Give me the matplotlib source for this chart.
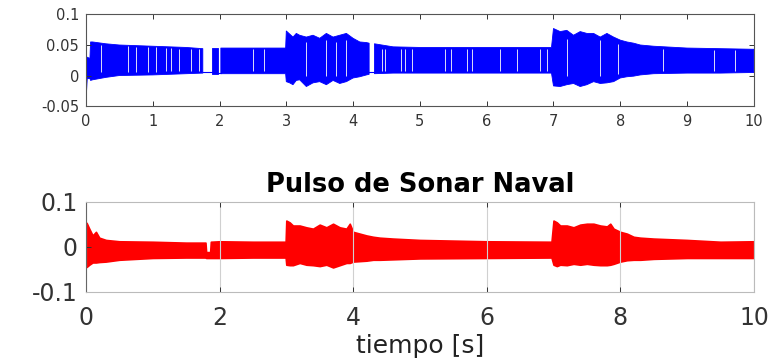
import numpy as np
import matplotlib
matplotlib.use('Agg')
import matplotlib.pyplot as plt

nan = np.nan

# ---------------- top panel: envelope of the blue signal ----------------
top_t = [0.00, 0.02, 0.06, 0.07, 0.10, 0.30, 0.50, 1.00, 1.50, 1.75,
         1.80, 1.885, 1.97, 1.99, 2.02, 2.50, 2.99, 3.00, 3.05, 3.10,
         3.15, 3.20, 3.30, 3.40, 3.50, 3.60, 3.70, 3.80, 3.90, 4.00,
         4.10, 4.20, 4.24, 4.28, 4.32, 4.60, 5.00, 6.00, 6.97, 7.00,
         7.10, 7.20, 7.30, 7.40, 7.50, 7.60, 7.70, 7.80, 7.90, 8.00,
         8.10, 8.20, 8.30, 8.50, 9.00, 9.50, 10.0]
top_upper = [0.030, 0.030, 0.028, 0.055, 0.055, 0.052, 0.050, 0.048, 0.046, 0.044,
             nan,   0.045, 0.045, nan,   0.045, 0.045, 0.045, 0.073, 0.068, 0.063,
             0.069, 0.066, 0.063, 0.066, 0.061, 0.069, 0.063, 0.066, 0.069, 0.061,
             0.055, 0.054, 0.053, nan,   0.052, 0.047, 0.046, 0.046, 0.046, 0.077,
             0.072, 0.074, 0.066, 0.072, 0.069, 0.069, 0.063, 0.069, 0.063, 0.058,
             0.055, 0.053, 0.050, 0.048, 0.045, 0.044, 0.043]
top_lower = [-0.045, -0.005, -0.005, -0.008, -0.007, -0.003, 0.000, 0.001, 0.003, 0.004,
             nan,    0.003,  0.003,  nan,    0.003,  0.003,  0.003, -0.010, -0.012, -0.015,
             -0.008, -0.007, -0.018, -0.012, -0.010, -0.015, -0.008, -0.013, -0.010, -0.004,
             -0.002, 0.001,  0.002,  nan,    0.003,  0.004,  0.004,  0.004,  0.004, -0.017,
             -0.018, -0.015, -0.013, -0.018, -0.015, -0.010, -0.013, -0.012, -0.010, -0.004,
             -0.002, -0.001, 0.001,  0.003,  0.004,  0.004,  0.005]

# silent stretches (flat trace) inside the top signal
top_gap_start = [1.75, 1.97, 4.24]
top_gap_end = [1.885, 2.02, 4.32]
top_gap_level = [0.005, 0.004, 0.006]

# short dropouts (thin light lines) in the top signal
top_drop_t = [0.23, 0.63, 0.755, 0.93, 1.05, 1.20, 1.28, 1.40, 1.58, 1.70,
              2.50, 2.67, 3.30, 3.60, 3.75, 3.90, 4.44, 4.48, 4.71, 4.78,
              4.88, 5.38, 5.46, 5.71, 5.78, 6.20, 6.45, 6.80, 6.90, 7.20,
              7.69, 7.97, 8.64, 9.41, 9.71]
top_drop_lo = [0.006, 0.006, 0.006, 0.006, 0.006, 0.007, 0.007, 0.007, 0.007, 0.007,
               0.007, 0.007, 0.000, 0.000, 0.000, 0.000, 0.008, 0.008, 0.008, 0.008,
               0.008, 0.008, 0.008, 0.008, 0.008, 0.008, 0.008, 0.008, 0.008, 0.000,
               0.000, 0.002, 0.008, 0.008, 0.008]
top_drop_hi = [0.050, 0.048, 0.047, 0.046, 0.046, 0.045, 0.045, 0.044, 0.043, 0.043,
               0.043, 0.043, 0.055, 0.058, 0.055, 0.058, 0.044, 0.044, 0.044, 0.044,
               0.044, 0.044, 0.044, 0.044, 0.044, 0.044, 0.044, 0.044, 0.044, 0.060,
               0.058, 0.052, 0.043, 0.042, 0.042]

# ---------------- bottom panel: envelope of the red signal ----------------
bot_t = [0.00, 0.01, 0.05, 0.10, 0.15, 0.20, 0.30, 0.50, 1.00, 1.50,
         1.79, 1.80, 1.86, 1.87, 2.00, 2.50, 2.99, 3.00, 3.05, 3.10,
         3.20, 3.30, 3.40, 3.50, 3.60, 3.70, 3.80, 3.90, 3.95, 4.00,
         4.10, 4.20, 4.30, 4.40, 4.60, 5.00, 6.00, 6.97, 7.00, 7.05,
         7.10, 7.20, 7.30, 7.40, 7.50, 7.60, 7.70, 7.80, 7.85, 7.90,
         8.00, 8.10, 8.20, 8.30, 8.50, 9.00, 9.50, 10.0]
bot_upper = [-0.020, 0.053, 0.040, 0.025, 0.033, 0.020, 0.015, 0.012, 0.011, 0.009,
             0.009, -0.012, -0.012, 0.011, 0.012, 0.011, 0.011, 0.058, 0.054, 0.047,
             0.047, 0.043, 0.040, 0.049, 0.043, 0.051, 0.043, 0.040, 0.051, 0.033,
             0.029, 0.025, 0.022, 0.020, 0.018, 0.015, 0.012, 0.011, 0.058, 0.054,
             0.047, 0.047, 0.043, 0.049, 0.051, 0.051, 0.047, 0.045, 0.051, 0.040,
             0.033, 0.029, 0.022, 0.020, 0.018, 0.015, 0.011, 0.012]
bot_lower = [-0.043, -0.045, -0.040, -0.035, -0.035, -0.034, -0.033, -0.029, -0.025, -0.024,
             -0.024, -0.025, -0.025, -0.025, -0.025, -0.024, -0.024, -0.040, -0.041, -0.041,
             -0.036, -0.040, -0.041, -0.043, -0.040, -0.046, -0.041, -0.036, -0.036, -0.033,
             -0.032, -0.031, -0.029, -0.029, -0.028, -0.026, -0.025, -0.024, -0.040, -0.043,
             -0.040, -0.041, -0.038, -0.040, -0.038, -0.040, -0.041, -0.041, -0.040, -0.038,
             -0.033, -0.030, -0.029, -0.029, -0.027, -0.025, -0.025, -0.025]

top_xticks = list(range(0, 11))
top_yticks = [-0.05, 0, 0.05, 0.1]
top_yticklabels = ['-0.05', '0', '0.05', '0.1']
bot_xticks = [0, 2, 4, 6, 8, 10]
bot_yticks = [-0.1, 0, 0.1]
bot_yticklabels = ['-0.1', '0', '0.1']
title_text = 'Pulso de Sonar Naval'
xlabel_text = 'tiempo [s]'

plt.rcParams['font.family'] = ['DejaVu Sans']

fig = plt.figure(figsize=(7.74, 3.62), dpi=100)
ax1 = fig.add_axes([0.111, 0.707, 0.863, 0.253])
ax2 = fig.add_axes([0.111, 0.194, 0.863, 0.249])

# ---- top ----
ax1.fill_between(top_t, top_lower, top_upper, color='#0000ff', linewidth=0.6,
                 edgecolor='#0000ff')
for s, e, lv in zip(top_gap_start, top_gap_end, top_gap_level):
    ax1.plot([s, e], [lv, lv], color='#0000ff', linewidth=0.8)
ax1.vlines(top_drop_t, top_drop_lo, top_drop_hi, colors='#dcdcf8', linewidth=0.7)
ax1.set_xlim(0, 10)
ax1.set_ylim(-0.05, 0.1)
ax1.set_xticks(top_xticks)
ax1.set_xticklabels([str(v) for v in top_xticks])
ax1.set_yticks(top_yticks)
ax1.set_yticklabels(top_yticklabels)
ax1.tick_params(direction='in', length=3.5, width=0.7, colors='#333333',
                labelsize=10.5, top=True, right=True)
ax1.tick_params(axis='x', pad=6)
ax1.tick_params(axis='y', pad=5)
for sp in ax1.spines.values():
    sp.set_color('#555555')
    sp.set_linewidth(0.8)

# ---- bottom ----
ax2.fill_between(bot_t, bot_lower, bot_upper, color='#ff0000', linewidth=1.2,
                 edgecolor='#ff0000')
ax2.set_xlim(0, 10)
ax2.set_ylim(-0.1, 0.1)
ax2.set_xticks(bot_xticks)
ax2.set_xticklabels([str(v) for v in bot_xticks])
ax2.set_yticks(bot_yticks)
ax2.set_yticklabels(bot_yticklabels)
ax2.grid(axis='x', color='#d0d0d0', linewidth=0.8)
ax2.tick_params(direction='in', length=3.5, width=0.7, colors='#333333',
                labelsize=17, top=True, right=False)
ax2.tick_params(axis='x', pad=10)
ax2.tick_params(axis='y', pad=6)
for name, sp in ax2.spines.items():
    sp.set_linewidth(0.8)
    sp.set_color('#666666' if name == 'left' else '#bbbbbb')
ax2.set_title(title_text, fontsize=18.5, fontweight='bold', pad=7)
ax2.set_xlabel(xlabel_text, fontsize=18, labelpad=3, color='#222222')

fig.savefig('out.png', dpi=100)
